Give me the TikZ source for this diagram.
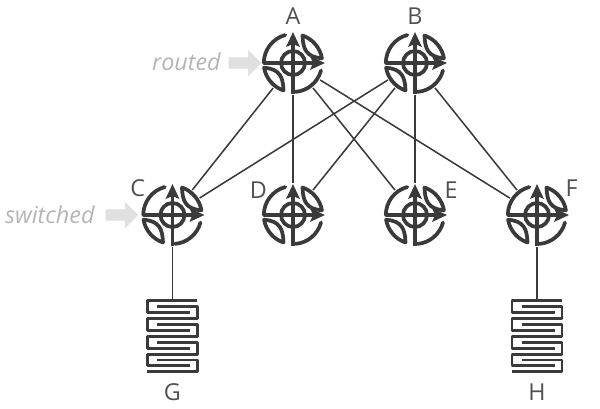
\documentclass[tikz,border=0pt]{standalone}
\usepackage{fontspec}
\setmainfont{Open Sans}
\usetikzlibrary{positioning}
\usetikzlibrary{calc,arrows.meta}
\usetikzlibrary{shapes.arrows}
\definecolor{net-line}{HTML}{3A3A3A}
\definecolor{net-text}{HTML}{505050}
\definecolor{net-muted}{HTML}{B4B4B4}
\definecolor{net-block}{HTML}{E0E0E0}

% router glyph, units are reference pixels
\newcommand{\routerglyph}{%
  \begin{scope}[shift={(path picture bounding box.center)},x=0.75pt,y=0.75pt,
      draw=net-line,line width=2.8pt,line cap=round,line join=round]
    \draw (-7.7,28) arc[start angle=105,end angle=180,radius=29];
    \draw (9.5,27.5) arc[start angle=71,end angle=10,radius=29.5]
      .. controls (13,6) and (10,14) .. cycle;
    \draw (-9.5,-27.5) arc[start angle=251,end angle=190,radius=29.5]
      .. controls (-13,-6) and (-10,-14) .. cycle;
    \draw (28,-7.5) arc[start angle=-15,end angle=-85,radius=29];
    \draw (0,0) circle[radius=12];
    \draw[-{Stealth[length=11pt,width=10pt,inset=2pt]},line cap=butt] (-29,0) -- (32,0);
    \draw[-{Stealth[length=11pt,width=10pt,inset=2pt]},line cap=butt] (0,-31) -- (0,31);
  \end{scope}}

% server glyph, one unit of the stack is 17.75 pixels high
\newcommand{\serverglyph}{%
  \begin{scope}[shift={(path picture bounding box.center)},x=0.75pt,y=0.75pt,
      draw=net-line,line width=2.2pt,line join=round]
    \foreach \row in {0,1,2,3} {
      \draw ($(25,35.5)+(0,-17.75*\row)$) -| ++(-50,-11.84) -- ++(43,0);
      \draw ($(-15,29.6)+(0,-17.75*\row)$) -| ++(40,0) |- ++(-50,-11.84);
    }
  \end{scope}}

\begin{document}
\begin{tikzpicture}[
    on grid,
    font=\fontsize{17.5pt}{20pt}\selectfont,
    text=net-text
  ]

  \tikzset{
    router/.style={circle, minimum size=48pt, inner sep=0pt, outer sep=0pt, path picture={\routerglyph}},
    server/.style={rectangle, minimum width=42pt, minimum height=55pt, inner sep=0pt, outer sep=0pt, path picture={\serverglyph}},
    link/.style={draw=net-line, line width=1.15pt},
    hint/.style={font=\fontsize{17.5pt}{20pt}\selectfont\itshape, text=net-muted},
    block/.style={single arrow, fill=net-block, draw=net-block, minimum height=24pt, minimum width=19pt, single arrow head extend=5.5pt, single arrow head indent=0pt, inner xsep=0pt, inner ysep=3.75pt}
  }

  \useasboundingbox (0,0) rectangle (450pt,-306pt);

  % Top row
  \node (A) [router] at (219.75pt,-47.25pt) {};
  \node (B) [router, right=91.5pt of A] {};

  % Middle row
  \node (D) [router, below=114pt of A] {};
  \node (C) [router, left=90.4pt of D] {};
  \node (E) [router, right=91.5pt of D] {};
  \node (F) [router, right=91.5pt of E] {};

  % Servers
  \node (G) [server, below=91pt of C] {};
  \node (H) [server, below=91pt of F] {};

  % Links
  \draw[link] (A) -- (C);
  \draw[link] (A) -- (D);
  \draw[link] (A) -- (E);
  \draw[link] (A) -- (F);
  \draw[link] (B) -- (C);
  \draw[link] (B) -- (D);
  \draw[link] (B) -- (E);
  \draw[link] (B) -- (F);
  \draw[link] (C) -- (G);
  \draw[link] (F) -- (H);

  % Letters
  \node (labelA) [above=35pt of A] {A};
  \node (labelB) [above=35pt of B] {B};
  \node (labelC) [above left=20pt and 26pt of C] {C};
  \node (labelD) [above left=19pt and 26pt of D] {D};
  \node (labelE) [above right=19pt and 27pt of E] {E};
  \node (labelF) [above right=20pt and 26pt of F] {F};
  \node (labelG) [below=42pt of G] {G};
  \node (labelH) [below=42pt of H] {H};

  % Layer hints
  \node (arrowR) [block, left=38pt of A] {};
  \node (routed) [hint, left=42pt of arrowR, yshift=1pt] {routed};
  \node (arrowS) [block, left=40pt of C] {};
  \node (switched) [hint, left=52pt of arrowS] {switched};

\end{tikzpicture}
\end{document}
